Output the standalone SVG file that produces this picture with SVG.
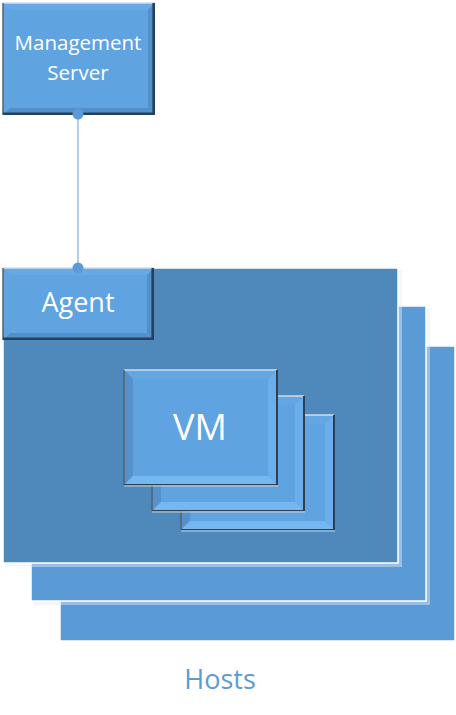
<svg xmlns="http://www.w3.org/2000/svg" width="456" height="715" viewBox="0 0 456 715">
<style>
.host{fill:#5B9BD5;stroke:#ffffff;stroke-width:1.5}
.hostfront{fill:#4F88BB;stroke:#ffffff;stroke-width:1.5}
.shadow{fill:#e4edf6;opacity:0.45}
.face{fill:#5FA3E0}
.bt{fill:#62a6e3}
.bl{fill:#5592cc}
.br{fill:#6aafec}
.bb{fill:#74b8f2}
.mt{fill:#66a9e5}
.ml{fill:#62a4e0}
.mr{fill:#5290ca}
.mb{fill:#5290ca}
.eTop{stroke:#d3dde8;stroke-width:1.5;fill:none}
.eLeft{stroke:#56606b;stroke-width:1.5;fill:none}
.eRight{stroke:#2f3f50;stroke-width:2;fill:none}
.eBot{stroke:#2f3f50;stroke-width:1.2;fill:none}
.eBotL{stroke:#c8d0d8;stroke-width:1.2;fill:none}
.eNavy{stroke:#26405c;stroke-width:2.6;fill:none}
.lbl{font-family:"Open Sans","Noto Sans",sans-serif;fill:#ffffff;text-anchor:middle}
.conn{stroke:#95bfe6;stroke-width:1.5;fill:none}
.dot{fill:#5B9BD5}
</style>

<g id="hosts">
  <rect class="host" x="60" y="346" width="395" height="295"/>
  <rect class="shadow" x="33" y="308" width="397" height="297"/>
  <rect class="host" x="31" y="306" width="395" height="295"/>
  <rect class="shadow" x="5" y="270" width="397" height="297"/>
  <rect class="hostfront" x="3" y="268" width="395" height="295"/>
  <text x="220" y="689" style="font-family:'Open Sans','Noto Sans',sans-serif;font-size:27px;fill:#5B9BD5;text-anchor:middle">Hosts</text>
</g>

<g id="vm3">
  <rect class="face" x="181" y="415" width="153" height="115"/>
  <polygon class="bt" points="181,415 334,415 325,424 190,424"/>
  <polygon class="bl" points="181,415 190,424 190,521 181,530"/>
  <polygon class="br" points="334,415 334,530 325,521 325,424"/>
  <polygon class="bb" points="181,530 334,530 325,521 190,521"/>
  <line class="eTop" x1="181" y1="415" x2="334" y2="415"/>
  <line class="eLeft" x1="181" y1="415" x2="181" y2="530"/>
  <line class="eRight" x1="334" y1="415" x2="334" y2="530"/>
  <line class="eBot" x1="181" y1="529.5" x2="334" y2="529.5"/>
  <line class="eBotL" x1="181" y1="531" x2="335" y2="531"/>
</g>

<g id="vm2">
  <rect class="face" x="152" y="396" width="152" height="115"/>
  <polygon class="bt" points="152,396 304,396 295,405 161,405"/>
  <polygon class="bl" points="152,396 161,405 161,502 152,511"/>
  <polygon class="br" points="304,396 304,511 295,502 295,405"/>
  <polygon class="bb" points="152,511 304,511 295,502 161,502"/>
  <line class="eTop" x1="152" y1="396" x2="304" y2="396"/>
  <line class="eLeft" x1="152" y1="396" x2="152" y2="511"/>
  <line class="eRight" x1="304" y1="396" x2="304" y2="511"/>
  <line class="eBot" x1="152" y1="510.5" x2="304" y2="510.5"/>
  <line class="eBotL" x1="152" y1="512" x2="305" y2="512"/>
</g>

<g id="vm1">
  <rect class="face" x="124" y="370" width="153" height="115"/>
  <polygon class="bt" points="124,370 277,370 268,379 133,379"/>
  <polygon class="bl" points="124,370 133,379 133,476 124,485"/>
  <polygon class="br" points="277,370 277,485 268,476 268,379"/>
  <polygon class="bb" points="124,485 277,485 268,476 133,476"/>
  <line class="eTop" x1="124" y1="370" x2="277" y2="370"/>
  <line class="eLeft" x1="124" y1="370" x2="124" y2="485"/>
  <line class="eRight" x1="277" y1="370" x2="277" y2="485"/>
  <line class="eBot" x1="124" y1="484.5" x2="277" y2="484.5"/>
  <line class="eBotL" x1="124" y1="486" x2="278" y2="486"/>
  <text class="lbl" x="200" y="440" style="font-size:36px">VM</text>
</g>

<g id="agent">
  <rect class="face" x="3" y="268" width="151" height="72"/>
  <polygon class="mt" points="3,268 154,268 147,275 10,275"/>
  <polygon class="ml" points="3,268 10,275 10,333 3,340"/>
  <polygon class="mr" points="154,268 154,340 147,333 147,275"/>
  <polygon class="mb" points="3,340 154,340 147,333 10,333"/>
  <line class="eTop" x1="3" y1="268" x2="154" y2="268"/>
  <line class="eLeft" x1="3" y1="268" x2="3" y2="340"/>
  <line class="eNavy" x1="152.7" y1="268" x2="152.7" y2="340"/>
  <line class="eNavy" x1="3" y1="338.7" x2="154" y2="338.7"/>
  <text class="lbl" x="78" y="312" style="font-size:27px">Agent</text>
</g>

<g id="management-server">
  <rect class="face" x="3" y="3" width="152" height="112"/>
  <polygon class="mt" points="3,3 155,3 148,10 10,10"/>
  <polygon class="ml" points="3,3 10,10 10,108 3,115"/>
  <polygon class="mr" points="155,3 155,115 148,108 148,10"/>
  <polygon class="mb" points="3,115 155,115 148,108 10,108"/>
  <line class="eTop" x1="3" y1="3" x2="155" y2="3"/>
  <line class="eLeft" x1="3" y1="3" x2="3" y2="115"/>
  <line class="eNavy" x1="153.7" y1="3" x2="153.7" y2="115"/>
  <line class="eNavy" x1="3" y1="113.7" x2="155" y2="113.7"/>
  <text class="lbl" x="78" y="50" style="font-size:20.5px">Management</text>
  <text class="lbl" x="78" y="80" style="font-size:20.5px">Server</text>
</g>

<g id="connectors">
  <line class="conn" x1="78" y1="114" x2="78" y2="268"/>
  <circle class="dot" cx="78" cy="114" r="5.5"/>
  <circle class="dot" cx="78" cy="268" r="5.5"/>
</g>
</svg>
